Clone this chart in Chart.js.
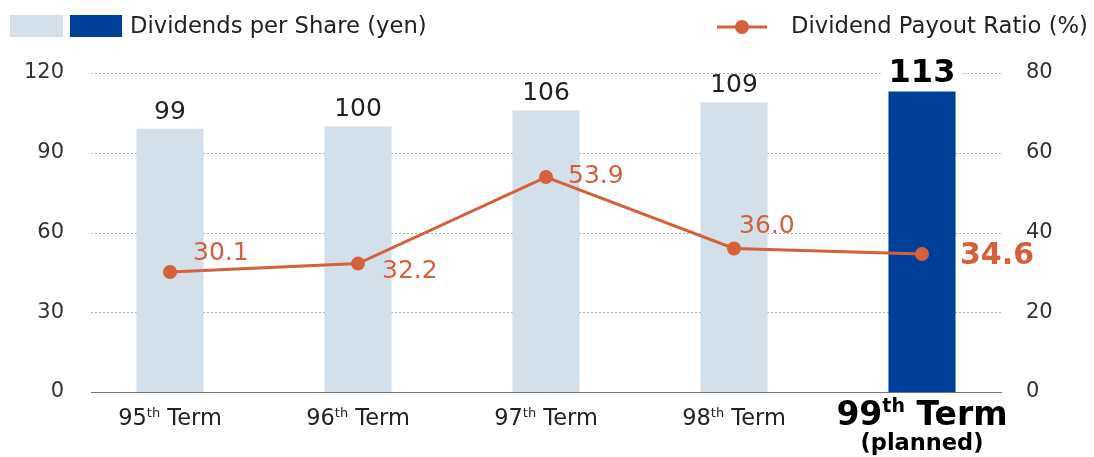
<!DOCTYPE html>
<html>
<head>
<meta charset="utf-8">
<script src="https://cdn.jsdelivr.net/npm/chart.js@4"></script>
<style>
  html, body { margin: 0; padding: 0; background: #fff; }
</style>
</head>
<body>
<canvas id="myChart" width="1094" height="457"></canvas>
<script>
const categories = ['95th Term', '96th Term', '97th Term', '98th Term', '99th Term'];
const categoryNotes = ['', '', '', '', '(planned)'];
const dividends = [99, 100, 106, 109, 113];
const payoutRatio = [30.1, 32.2, 53.9, 36.0, 34.6];
const leftTicks = [0, 30, 60, 90, 120];
const rightTicks = [0, 20, 40, 60, 80];
const plannedIndex = 4; // highlighted term

// where each ratio label sits relative to its point (dx, baseline dy)
const ratioLabelOffsets = [[23, -12], [24, 14], [22, 6], [5, -15], [38, 10]];

const FONT = '"DejaVu Sans", Verdana, sans-serif';
const LIGHT = '#d3e0e9';
const DARK = '#00409b';
const ORANGE = '#d4603c';

// dotted grid lines, a bit narrower than the category area
const gridPlugin = {
  id: 'grid',
  beforeDatasetsDraw(chart) {
    const ctx = chart.ctx;
    const y = chart.scales.y;
    const { left, right } = chart.chartArea;
    ctx.save();
    ctx.strokeStyle = '#b0b0b0';
    ctx.lineWidth = 1;
    ctx.setLineDash([2, 2]);
    leftTicks.forEach(v => {
      if (v === 0) return;
      const py = Math.round(y.getPixelForValue(v)) + 0.5;
      ctx.beginPath();
      ctx.moveTo(left + 15, py);
      ctx.lineTo(right - 14, py);
      ctx.stroke();
    });
    ctx.restore();
  },
  afterDatasetsDraw(chart) {
    const ctx = chart.ctx;
    const y = chart.scales.y;
    const { left, right } = chart.chartArea;
    const py = Math.round(y.getPixelForValue(0)) + 0.5;
    ctx.save();
    ctx.strokeStyle = '#777';
    ctx.lineWidth = 1;
    ctx.beginPath();
    ctx.moveTo(left + 15, py);
    ctx.lineTo(right - 14, py);
    ctx.stroke();
    ctx.restore();
  }
};

// value labels for bars and line points
const labelPlugin = {
  id: 'labels',
  afterDatasetsDraw(chart) {
    const ctx = chart.ctx;
    const bars = chart.getDatasetMeta(0).data;
    const points = chart.getDatasetMeta(1).data;
    ctx.save();
    ctx.textAlign = 'center';
    ctx.textBaseline = 'alphabetic';
    bars.forEach((bar, i) => {
      const text = String(dividends[i]);
      if (i === plannedIndex) {
        ctx.font = 'bold 32px ' + FONT;
        const w = ctx.measureText(text).width;
        ctx.fillStyle = '#fff';
        ctx.fillRect(bar.x - w / 2 - 8, bar.y - 38, w + 16, 30);
        ctx.fillStyle = '#000';
      } else {
        ctx.font = '25px ' + FONT;
        ctx.fillStyle = '#222';
      }
      ctx.fillText(text, bar.x, bar.y - 10);
    });
    ctx.textAlign = 'left';
    points.forEach((pt, i) => {
      const text = payoutRatio[i].toFixed(1);
      const [dx, dy] = ratioLabelOffsets[i];
      ctx.font = (i === plannedIndex ? 'bold 30px ' : '25px ') + FONT;
      ctx.fillStyle = ORANGE;
      ctx.fillText(text, pt.x + dx, pt.y + dy);
    });
    ctx.restore();
  }
};

// category labels with superscript "th"
const xLabelPlugin = {
  id: 'xLabels',
  afterDraw(chart) {
    const ctx = chart.ctx;
    const x = chart.scales.x;
    const base = chart.chartArea.bottom + 33;
    ctx.save();
    ctx.textBaseline = 'alphabetic';
    ctx.textAlign = 'left';
    categories.forEach((label, i) => {
      const m = label.match(/^(\d+)(th)(.*)$/);
      const big = i === plannedIndex;
      const mainFont = big ? 'bold 33px ' + FONT : '22.5px ' + FONT;
      const supFont = big ? 'bold 19px ' + FONT : '13px ' + FONT;
      const rise = big ? 13 : 8;
      ctx.font = mainFont;
      const w1 = ctx.measureText(m[1]).width;
      const w3 = ctx.measureText(m[3]).width;
      ctx.font = supFont;
      const w2 = ctx.measureText(m[2]).width;
      const cx = x.getPixelForValue(i);
      let px = cx - (w1 + w2 + w3) / 2;
      ctx.fillStyle = big ? '#000' : '#222';
      ctx.font = mainFont;
      ctx.fillText(m[1], px, base);
      px += w1;
      ctx.font = supFont;
      ctx.fillText(m[2], px, base - rise);
      px += w2;
      ctx.font = mainFont;
      ctx.fillText(m[3], px, base);
      if (categoryNotes[i]) {
        ctx.textAlign = 'center';
        ctx.font = 'bold 22.5px ' + FONT;
        ctx.fillText(categoryNotes[i], cx, base + 25);
        ctx.textAlign = 'left';
      }
    });
    ctx.restore();
  }
};

// legend split to left and right
const legendPlugin = {
  id: 'customLegend',
  afterDraw(chart) {
    const ctx = chart.ctx;
    ctx.save();
    ctx.fillStyle = LIGHT;
    ctx.fillRect(10, 15, 53, 22);
    ctx.fillStyle = DARK;
    ctx.fillRect(70, 15, 52, 22);
    ctx.font = '22.7px ' + FONT;
    ctx.fillStyle = '#222';
    ctx.textBaseline = 'middle';
    ctx.textAlign = 'left';
    ctx.fillText(chart.data.datasets[0].label, 130, 27);

    ctx.strokeStyle = ORANGE;
    ctx.lineWidth = 3;
    ctx.beginPath();
    ctx.moveTo(717, 27);
    ctx.lineTo(767, 27);
    ctx.stroke();
    ctx.fillStyle = ORANGE;
    ctx.beginPath();
    ctx.arc(742, 27, 7, 0, Math.PI * 2);
    ctx.fill();
    ctx.fillStyle = '#222';
    ctx.fillText(chart.data.datasets[1].label, 791, 27);
    ctx.restore();
  }
};

const ctx = document.getElementById('myChart');
new Chart(ctx, {
  type: 'bar',
  data: {
    labels: categories,
    datasets: [{
      label: 'Dividends per Share (yen)',
      data: dividends,
      backgroundColor: dividends.map((v, i) => i === plannedIndex ? DARK : LIGHT),
      categoryPercentage: 1,
      barPercentage: 0.357,
      yAxisID: 'y',
      order: 2
    }, {
      type: 'line',
      label: 'Dividend Payout Ratio (%)',
      data: payoutRatio,
      borderColor: ORANGE,
      backgroundColor: ORANGE,
      borderWidth: 3,
      pointRadius: 7,
      pointBorderWidth: 0,
      pointBackgroundColor: ORANGE,
      tension: 0,
      yAxisID: 'y1',
      order: 1
    }]
  },
  options: {
    responsive: false,
    animation: false,
    layout: { padding: { top: 73, bottom: 65, left: 0, right: 0 } },
    plugins: {
      legend: { display: false },
      tooltip: { enabled: false }
    },
    scales: {
      x: {
        display: false
      },
      y: {
        position: 'left',
        min: 0,
        max: 120,
        afterBuildTicks: s => { s.ticks = leftTicks.map(v => ({ value: v })); },
        afterFit: s => { s.width = 76; },
        grid: { display: false, drawTicks: false },
        border: { display: false },
        ticks: { padding: 12, color: '#333', font: { family: FONT, size: 21 } }
      },
      y1: {
        position: 'right',
        min: 0,
        max: 80,
        afterBuildTicks: s => { s.ticks = rightTicks.map(v => ({ value: v })); },
        afterFit: s => { s.width = 78; },
        grid: { display: false, drawTicks: false },
        border: { display: false },
        ticks: { padding: 10, color: '#333', font: { family: FONT, size: 21 } }
      }
    }
  },
  plugins: [gridPlugin, labelPlugin, xLabelPlugin, legendPlugin]
});
</script>
</body>
</html>
